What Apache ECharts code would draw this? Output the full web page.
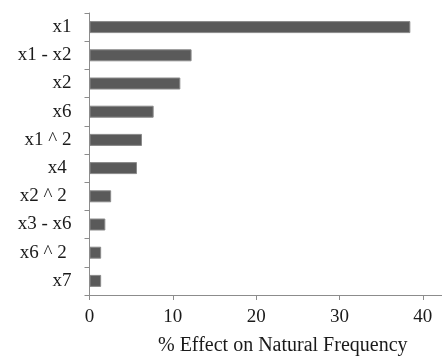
<!DOCTYPE html>
<html><head><meta charset="utf-8">
<script src="https://cdn.jsdelivr.net/npm/echarts@6/dist/echarts.min.js"></script>
<style>html,body{margin:0;padding:0;background:#fff}#c{width:442px;height:361px}</style>
</head><body><div id="c"></div>
<script>
const categories = ["x1", "x1 - x2", "x2", "x6", "x1 ^ 2", "x4 ", "x2 ^ 2 ", "x3 - x6", "x6 ^ 2 ", "x7"];
const values = [38.5, 12.25, 10.9, 7.7, 6.3, 5.7, 2.6, 1.9, 1.4, 1.4];
const xTicks = [0, 10, 20, 30, 40];
const xTitle = "% Effect on Natural Frequency";
const font = "'Liberation Serif', 'Times New Roman', serif";
const axisColor = "#8c8c8c";
const chart = echarts.init(document.getElementById('c'));
chart.setOption({
  animation: false,
  grid: { left: 89.5, right: 0, top: 13, bottom: 62, containLabel: false },
  xAxis: {
    type: 'value', min: 0, max: 42.3,
    splitLine: { show: false },
    axisLine: { show: true, lineStyle: { color: axisColor, width: 1 } },
    axisTick: { show: true, length: 5, lineStyle: { color: axisColor }, customValues: xTicks },
    axisLabel: { color: '#1a1a1a', fontFamily: font, fontSize: 19, margin: 13, customValues: xTicks },
    name: xTitle, nameLocation: 'middle', nameGap: 41,
    nameTextStyle: { color: '#1a1a1a', fontFamily: font, fontSize: 20, padding: [0, 0, 0, 34] }
  },
  yAxis: {
    type: 'category', data: categories, inverse: true,
    axisLine: { show: true, lineStyle: { color: axisColor, width: 1 } },
    axisTick: { show: true, length: 5, lineStyle: { color: axisColor } },
    axisLabel: { color: '#1a1a1a', fontFamily: font, fontSize: 19, margin: 18, padding: [5, 0, 0, 0] }
  },
  series: [{
    type: 'bar', data: values, barWidth: 12,
    itemStyle: { color: '#5a5a5a', borderColor: '#8a8a8a', borderWidth: 1 }
  }]
});
</script></body></html>
